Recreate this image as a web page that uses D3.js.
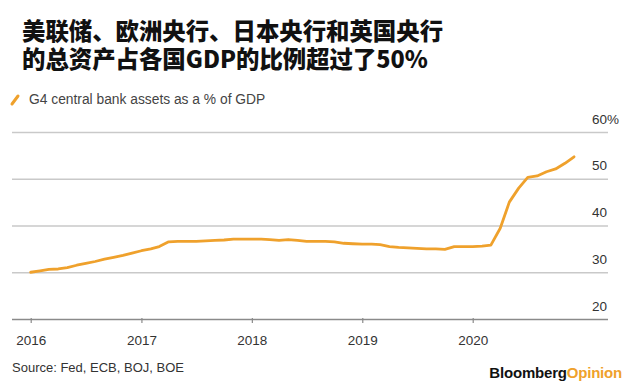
<!DOCTYPE html>
<html>
<head>
<meta charset="utf-8">
<script src="https://cdn.jsdelivr.net/npm/d3@7"></script>
<style>
  body { margin: 0; background: #fff; }
  svg { display: block; font-family: "Liberation Sans", Arial, sans-serif; }
</style>
</head>
<body>
<svg id="chart" width="634" height="385"></svg>
<script>
// G4 central bank assets as a % of GDP, monthly
const months = [
  '2016-01','2016-02','2016-03','2016-04','2016-05','2016-06','2016-07','2016-08','2016-09','2016-10','2016-11','2016-12',
  '2017-01','2017-02','2017-03','2017-04','2017-05','2017-06','2017-07','2017-08','2017-09','2017-10','2017-11','2017-12',
  '2018-01','2018-02','2018-03','2018-04','2018-05','2018-06','2018-07','2018-08','2018-09','2018-10','2018-11','2018-12',
  '2019-01','2019-02','2019-03','2019-04','2019-05','2019-06','2019-07','2019-08','2019-09','2019-10','2019-11','2019-12',
  '2020-01','2020-02','2020-03','2020-04','2020-05','2020-06','2020-07','2020-08','2020-09','2020-10','2020-11','2020-12'
];
const assets = [
  30.0, 30.3, 30.6, 30.7, 31.0, 31.5, 31.9, 32.3, 32.8, 33.2, 33.6, 34.1,
  34.6, 35.0, 35.5, 36.5, 36.6, 36.6, 36.6, 36.7, 36.8, 36.9, 37.1, 37.1,
  37.1, 37.1, 37.0, 36.8, 37.0, 36.8, 36.6, 36.6, 36.6, 36.5, 36.2, 36.1,
  36.0, 36.0, 35.9, 35.5, 35.3, 35.2, 35.1, 35.0, 35.0, 34.9, 35.5, 35.5,
  35.5, 35.6, 35.8, 39.4, 45.0, 48.0, 50.3, 50.6, 51.5, 52.1, 53.3, 54.7
];
const yTicks = [20, 30, 40, 50, 60];
const xTickYears = ['2016', '2017', '2018', '2019', '2020'];
const titleLines = ['美联储、欧洲央行、日本央行和英国央行', '的总资产占各国GDP的比例超过了50%'];
const legendLabel = 'G4 central bank assets as a % of GDP';
const sourceLabel = 'Source: Fed, ECB, BOJ, BOE';

const orange = '#efa12c';
const parseMonth = d3.timeParse('%Y-%m');
const parseYear = d3.timeParse('%Y');
const data = months.map((m, i) => ({ date: parseMonth(m), value: assets[i] }));

const svg = d3.select('#chart');

const x = d3.scaleTime()
    .domain([parseYear('2016'), parseYear('2020')])
    .range([30.7, 472.7]);
const y = d3.scaleLinear()
    .domain([20, 60])
    .range([319, 132]);

const gridLeft = 12, gridRight = 608;

// title
svg.append('g')
  .selectAll('text')
  .data(titleLines)
  .join('text')
    .attr('x', 22)
    .attr('y', (d, i) => 40 + i * 28)
    .attr('font-family', '"Noto Sans CJK SC", sans-serif')
    .attr('font-weight', 900)
    .attr('font-size', 23.4)
    .attr('fill', '#111')
    .text(d => d);

// legend
const legend = svg.append('g').attr('transform', 'translate(12,104)');
legend.append('line')
    .attr('x1', 0).attr('y1', 0).attr('x2', 6).attr('y2', -8)
    .attr('stroke', orange).attr('stroke-width', 3).attr('stroke-linecap', 'round');
legend.append('text')
    .attr('x', 17).attr('y', 0)
    .attr('font-size', 13.8)
    .attr('fill', '#444')
    .text(legendLabel);

// horizontal grid + right labels
const yAxis = d3.axisRight(y)
    .tickValues(yTicks)
    .tickSize(0)
    .tickFormat(d => d === 60 ? d + '%' : d);

const yg = svg.append('g').call(yAxis);
yg.select('.domain').remove();
yg.selectAll('.tick line').remove();
yg.selectAll('.tick').append('line')
    .attr('x1', gridLeft).attr('x2', gridRight)
    .attr('stroke', d => d === 20 ? '#8a8a8a' : '#c9c9c9')
    .attr('stroke-width', 1.5);
yg.selectAll('.tick text')
    .attr('x', 592)
    .attr('dy', -9)
    .attr('text-anchor', 'start')
    .attr('font-size', 13.5)
    .attr('fill', '#333');

// x axis
const xAxis = d3.axisBottom(x)
    .tickValues(xTickYears.map(parseYear))
    .tickSize(5)
    .tickFormat(d3.timeFormat('%Y'));

const xg = svg.append('g')
    .attr('transform', `translate(0,${y(20) - 1})`)
    .call(xAxis);
xg.select('.domain').remove();
xg.selectAll('.tick line').attr('stroke', '#8a8a8a').attr('stroke-width', 1.2);
xg.selectAll('.tick text')
    .attr('y', 17)
    .attr('font-family', '"Liberation Sans", Arial, sans-serif')
    .attr('font-size', 13.5)
    .attr('fill', '#333');

// series line
const line = d3.line()
    .x(d => x(d.date))
    .y(d => y(d.value));

svg.append('path')
    .datum(data)
    .attr('fill', 'none')
    .attr('stroke', orange)
    .attr('stroke-width', 2.8)
    .attr('stroke-linejoin', 'round')
    .attr('stroke-linecap', 'round')
    .attr('d', line);

// footer
svg.append('text')
    .attr('x', 12).attr('y', 372)
    .attr('font-size', 13)
    .attr('fill', '#333')
    .text(sourceLabel);

const brand = svg.append('text')
    .attr('x', 622).attr('y', 378)
    .attr('text-anchor', 'end')
    .attr('font-size', 15)
    .attr('font-weight', 700)
    .attr('letter-spacing', -0.2);
brand.append('tspan').attr('fill', '#111').text('Bloomberg');
brand.append('tspan').attr('fill', orange).text('Opinion');
</script>
</body>
</html>
